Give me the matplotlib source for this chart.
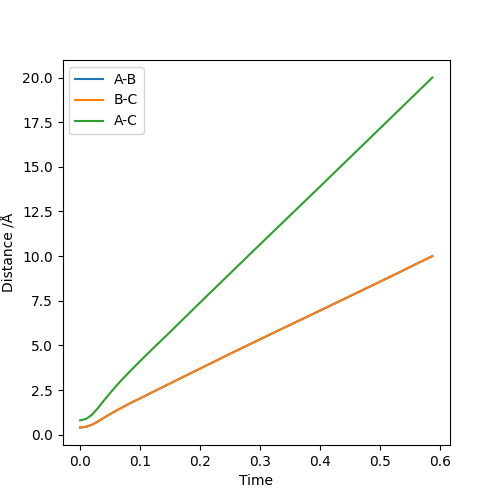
import matplotlib
matplotlib.use("Agg")
import matplotlib.pyplot as plt

time = [0.0, 0.01, 0.02, 0.03, 0.04, 0.05, 0.06, 0.07, 0.08, 0.09, 0.10, 0.12, 0.15,
        0.20, 0.25, 0.30, 0.35, 0.40, 0.45, 0.50, 0.55, 0.587]
ab = [0.40, 0.44, 0.56, 0.74, 0.95, 1.15, 1.34, 1.52, 1.70, 1.87, 2.03, 2.37, 2.87,
      3.70, 4.53, 5.34, 6.15, 6.95, 7.76, 8.57, 9.39, 10.00]
bc = [0.40, 0.44, 0.56, 0.74, 0.95, 1.15, 1.34, 1.52, 1.70, 1.87, 2.03, 2.37, 2.87,
      3.70, 4.53, 5.34, 6.15, 6.95, 7.76, 8.57, 9.39, 10.00]
ac = [0.80, 0.88, 1.12, 1.50, 1.92, 2.33, 2.72, 3.09, 3.44, 3.78, 4.12, 4.78, 5.75,
      7.40, 9.03, 10.66, 12.28, 13.90, 15.53, 17.16, 18.79, 20.00]

fig, ax = plt.subplots(figsize=(5, 5), dpi=100)
ax.plot(time, ab, label="A-B")
ax.plot(time, bc, label="B-C")
ax.plot(time, ac, label="A-C")
ax.set_xlabel("Time")
ax.set_ylabel("Distance /Å")
ax.legend(loc="upper left")
fig.savefig("out.png")
